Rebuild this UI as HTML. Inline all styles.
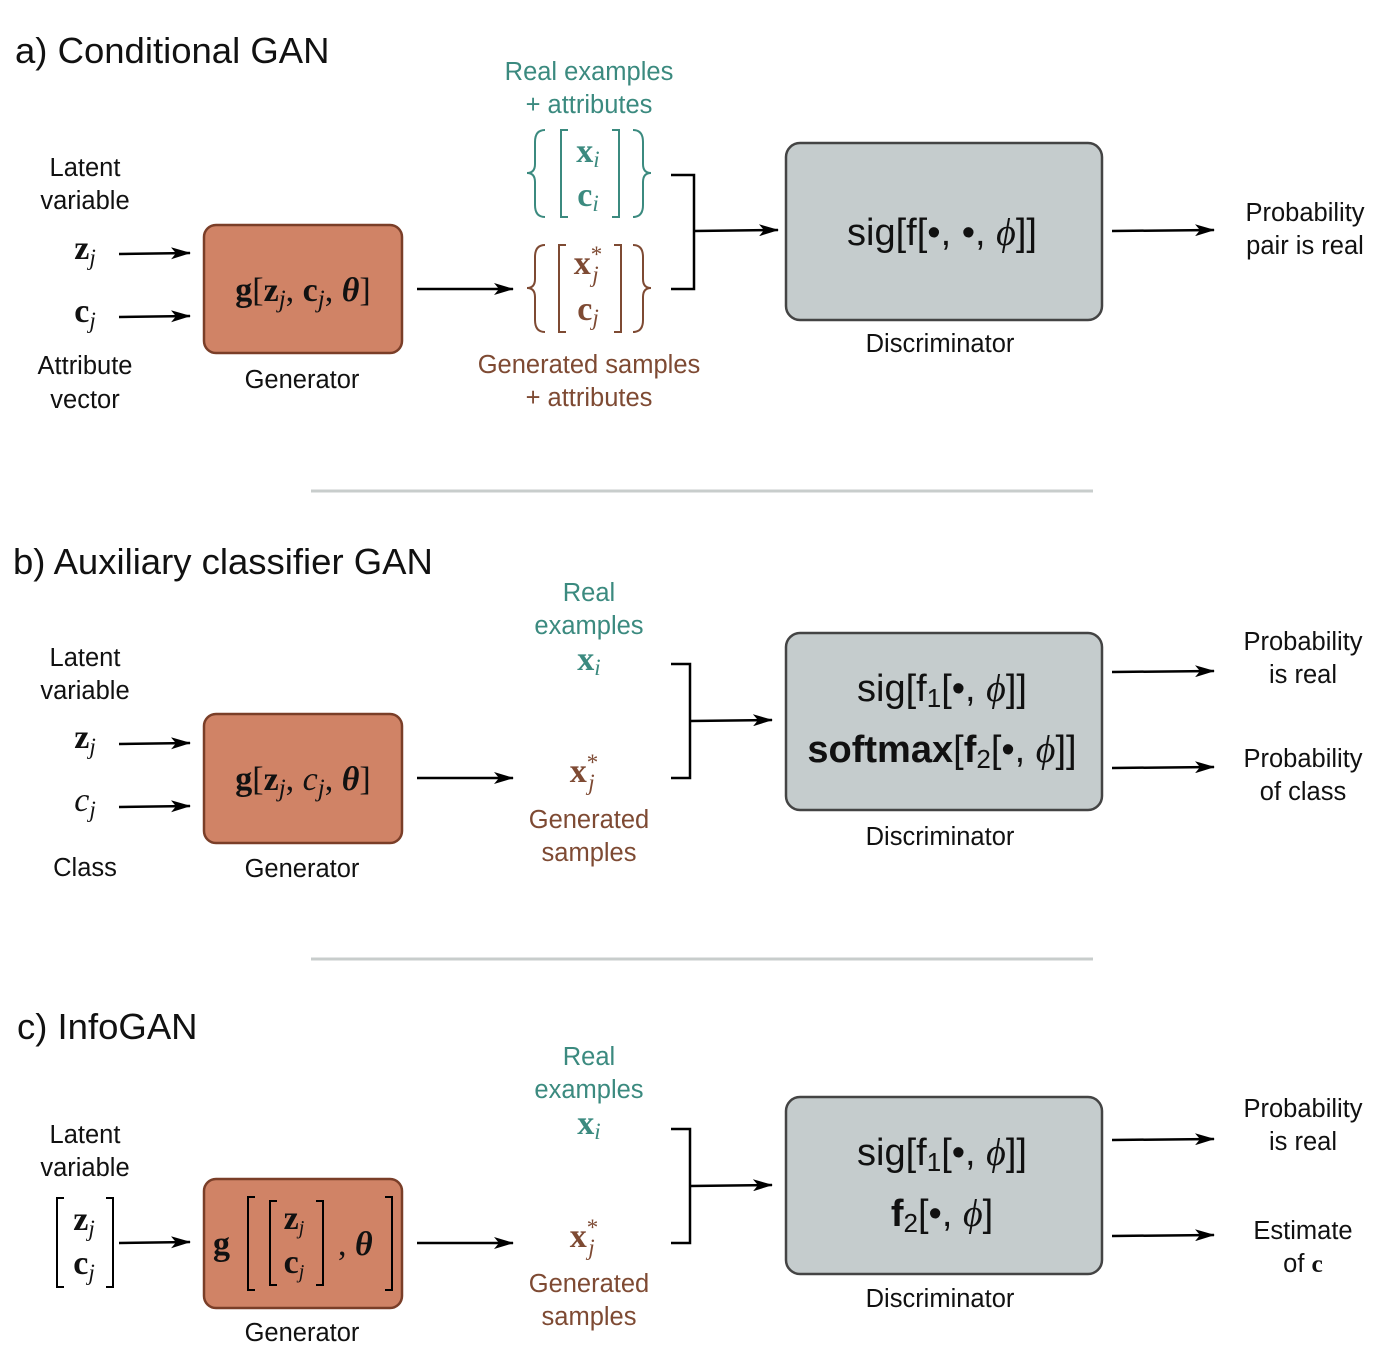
<!DOCTYPE html>
<html><head><meta charset="utf-8"><style>
html,body{margin:0;padding:0;background:#fff}
svg{display:block}
.s{font-family:"Liberation Sans","DejaVu Sans",sans-serif;font-size:25.5px;fill:#111}
.t{font-family:"Liberation Sans","DejaVu Sans",sans-serif;font-size:36.5px;fill:#111}
.d{font-family:"Liberation Sans","DejaVu Sans",sans-serif;font-size:38px;fill:#111}
.m{font-family:"Liberation Serif","DejaVu Serif",serif;font-size:34px;fill:#111}
.b{font-weight:bold}
.i{font-style:italic}
.teal{fill:#3b8a7f}
.brn{fill:#7e4a33}
</style></head><body>
<svg width="1394" height="1366" viewBox="0 0 1394 1366" xmlns="http://www.w3.org/2000/svg">
<defs>
<marker id="ar" viewBox="0 0 20 12" refX="19" refY="6" markerWidth="20" markerHeight="12" markerUnits="userSpaceOnUse" orient="auto">
<path d="M0,0 L20,6 L0,12 L5,6 Z" fill="#000"/></marker>
</defs>
<g stroke="#000" stroke-width="2.5" fill="none" marker-end="url(#ar)">
<line x1="119" y1="254" x2="190" y2="253"/>
<line x1="119" y1="317" x2="190" y2="316"/>
<line x1="417" y1="289" x2="513" y2="289"/>
<line x1="694" y1="231" x2="778" y2="230"/>
<line x1="1112" y1="231" x2="1214" y2="230"/>
<line x1="119" y1="744" x2="190" y2="743"/>
<line x1="119" y1="807" x2="190" y2="806"/>
<line x1="417" y1="778" x2="513" y2="778"/>
<line x1="690" y1="721" x2="772" y2="720"/>
<line x1="1112" y1="672" x2="1214" y2="671"/>
<line x1="1112" y1="768" x2="1214" y2="767"/>
<line x1="119" y1="1243" x2="190" y2="1242"/>
<line x1="417" y1="1243" x2="513" y2="1243"/>
<line x1="690" y1="1186" x2="772" y2="1185"/>
<line x1="1112" y1="1140" x2="1214" y2="1139"/>
<line x1="1112" y1="1236" x2="1214" y2="1235"/>
</g>
<g stroke="#000" stroke-width="2.5" fill="none">
<path d="M671,175 H694 V289 H671"/>
<path d="M671,664 H690 V778 H671"/>
<path d="M671,1129 H690 V1243 H671"/>
</g>
<line x1="311" y1="491" x2="1093" y2="491" stroke="#c8cdcc" stroke-width="3"/>
<line x1="311" y1="959" x2="1093" y2="959" stroke="#c8cdcc" stroke-width="3"/>

<g fill="#d08366" stroke="#7a3e28" stroke-width="2.5">
<rect x="204" y="225" width="198" height="128" rx="12"/>
<rect x="204" y="714" width="198" height="129" rx="12"/>
<rect x="204" y="1179" width="198" height="129" rx="12"/>
</g>
<g fill="#c5cccd" stroke="#444" stroke-width="2.5">
<rect x="786" y="143" width="316" height="177" rx="14"/>
<rect x="786" y="633" width="316" height="177" rx="14"/>
<rect x="786" y="1097" width="316" height="177" rx="14"/>
</g>

<text class="t" x="15" y="63">a) Conditional GAN</text>
<text class="t" x="13" y="574">b) Auxiliary classifier GAN</text>
<text class="t" x="17" y="1039">c) InfoGAN</text>

<g class="s" text-anchor="middle">
<text x="85" y="176">Latent</text><text x="85" y="209">variable</text>
<text x="85" y="374">Attribute</text><text x="85" y="408">vector</text>
<text x="302" y="388">Generator</text>
<text x="940" y="352">Discriminator</text>
<text x="1305" y="221">Probability</text><text x="1305" y="254">pair is real</text>
<text class="s teal" x="589" y="80">Real examples</text><text class="s teal" x="589" y="113">+ attributes</text>
<text class="s brn" x="589" y="373">Generated samples</text><text class="s brn" x="589" y="406">+ attributes</text>
</g>
<text class="m" x="85" y="259" text-anchor="middle"><tspan class="b">z</tspan><tspan class="i" font-size="23" dy="6">j</tspan></text>
<text class="m" x="85" y="322" text-anchor="middle"><tspan class="b">c</tspan><tspan class="i" font-size="23" dy="6">j</tspan></text>
<text class="m" x="303" y="301" text-anchor="middle" font-size="38"><tspan class="b">g</tspan>[<tspan class="b">z</tspan><tspan class="i" font-size="25" dy="6">j</tspan><tspan dy="-6">, </tspan><tspan class="b">c</tspan><tspan class="i" font-size="25" dy="6">j</tspan><tspan dy="-6">, </tspan><tspan class="b i">θ</tspan>]</text>
<g stroke="#3b8a7f" stroke-width="2" fill="none">
<path d="M545,130 Q535,130 535,142 L535,164 Q535,173 527,173 Q535,173 535,182 L535,205 Q535,217 545,217"/>
<path d="M633,130 Q643,130 643,142 L643,164 Q643,173 651,173 Q643,173 643,182 L643,205 Q643,217 633,217"/>
<path d="M568,130 H561 V217 H568"/><path d="M612,130 H619 V217 H612"/>
</g>
<g stroke="#7e4a33" stroke-width="2" fill="none">
<path d="M545,245 Q535,245 535,257 L535,279 Q535,288 527,288 Q535,288 535,297 L535,320 Q535,332 545,332"/>
<path d="M633,245 Q643,245 643,257 L643,279 Q643,288 651,288 Q643,288 643,297 L643,320 Q643,332 633,332"/>
<path d="M566,245 H559 V332 H566"/><path d="M614,245 H621 V332 H614"/>
</g>
<text class="m teal" x="588" y="162" text-anchor="middle"><tspan class="b">x</tspan><tspan class="i" font-size="23" dy="5">i</tspan></text>
<text class="m teal" x="588" y="206" text-anchor="middle"><tspan class="b">c</tspan><tspan class="i" font-size="23" dy="5">i</tspan></text>
<text class="m brn" x="588" y="274" text-anchor="middle"><tspan class="b">x</tspan><tspan font-size="23" dy="-12">*</tspan><tspan class="i" font-size="23" dx="-10" dy="20">j</tspan></text>
<text class="m brn" x="588" y="320" text-anchor="middle"><tspan class="b">c</tspan><tspan class="i" font-size="23" dy="5">j</tspan></text>
<text class="d" x="942" y="245" text-anchor="middle">sig[f[•, •, <tspan class="i" font-family="Liberation Serif,serif">ϕ</tspan>]]</text>

<g class="s" text-anchor="middle">
<text x="85" y="666">Latent</text><text x="85" y="699">variable</text>
<text x="85" y="876">Class</text>
<text x="302" y="877">Generator</text>
<text x="940" y="845">Discriminator</text>
<text x="1303" y="650">Probability</text><text x="1303" y="683">is real</text>
<text x="1303" y="767">Probability</text><text x="1303" y="800">of class</text>
<text class="s teal" x="589" y="601">Real</text><text class="s teal" x="589" y="634">examples</text>
<text class="s brn" x="589" y="828">Generated</text><text class="s brn" x="589" y="861">samples</text>
</g>
<text class="m" x="85" y="748" text-anchor="middle"><tspan class="b">z</tspan><tspan class="i" font-size="23" dy="6">j</tspan></text>
<text class="m i" x="85" y="811" text-anchor="middle">c<tspan font-size="23" dy="6">j</tspan></text>
<text class="m" x="303" y="790" text-anchor="middle" font-size="38"><tspan class="b">g</tspan>[<tspan class="b">z</tspan><tspan class="i" font-size="25" dy="6">j</tspan><tspan dy="-6">, </tspan><tspan class="i">c</tspan><tspan class="i" font-size="25" dy="6">j</tspan><tspan dy="-6">, </tspan><tspan class="b i">θ</tspan>]</text>
<text class="m teal" x="589" y="670" text-anchor="middle"><tspan class="b">x</tspan><tspan class="i" font-size="23" dy="5">i</tspan></text>
<text class="m brn" x="584" y="782" text-anchor="middle"><tspan class="b">x</tspan><tspan font-size="23" dy="-12">*</tspan><tspan class="i" font-size="23" dx="-10" dy="20">j</tspan></text>
<text class="d" x="942" y="701" text-anchor="middle">sig[f<tspan font-size="26" dy="6">1</tspan><tspan dy="-6">[•, </tspan><tspan class="i" font-family="Liberation Serif,serif">ϕ</tspan>]]</text>
<text class="d" x="942" y="762" text-anchor="middle"><tspan class="b">softmax</tspan>[<tspan class="b">f</tspan><tspan font-size="26" dy="6">2</tspan><tspan dy="-6">[•, </tspan><tspan class="i" font-family="Liberation Serif,serif">ϕ</tspan>]]</text>

<g class="s" text-anchor="middle">
<text x="85" y="1143">Latent</text><text x="85" y="1176">variable</text>
<text x="302" y="1341">Generator</text>
<text x="940" y="1307">Discriminator</text>
<text x="1303" y="1117">Probability</text><text x="1303" y="1150">is real</text>
<text x="1303" y="1239">Estimate</text><text x="1303" y="1272">of <tspan class="b" font-family="Liberation Serif,serif">c</tspan></text>
<text class="s teal" x="589" y="1065">Real</text><text class="s teal" x="589" y="1098">examples</text>
<text class="s brn" x="589" y="1292">Generated</text><text class="s brn" x="589" y="1325">samples</text>
</g>
<g stroke="#000" stroke-width="2" fill="none">
<path d="M64,1198 H57 V1287 H64"/><path d="M106,1198 H113 V1287 H106"/>
<path d="M255,1197 H248 V1290 H255"/><path d="M385,1197 H392 V1290 H385"/>
<path d="M277,1201 H270 V1285 H277"/><path d="M316,1201 H323 V1285 H316"/>
</g>
<text class="m" x="84" y="1230" text-anchor="middle"><tspan class="b">z</tspan><tspan class="i" font-size="23" dy="6">j</tspan></text>
<text class="m" x="84" y="1274" text-anchor="middle"><tspan class="b">c</tspan><tspan class="i" font-size="23" dy="6">j</tspan></text>
<text class="m b" x="213" y="1255" font-size="38">g</text>
<text class="m" x="294" y="1229" text-anchor="middle" font-size="30"><tspan class="b">z</tspan><tspan class="i" font-size="20" dy="5">j</tspan></text>
<text class="m" x="294" y="1273" text-anchor="middle" font-size="30"><tspan class="b">c</tspan><tspan class="i" font-size="20" dy="5">j</tspan></text>
<text class="m" x="338" y="1255" font-size="38">, <tspan class="b i">θ</tspan></text>
<text class="m teal" x="589" y="1134" text-anchor="middle"><tspan class="b">x</tspan><tspan class="i" font-size="23" dy="5">i</tspan></text>
<text class="m brn" x="584" y="1247" text-anchor="middle"><tspan class="b">x</tspan><tspan font-size="23" dy="-12">*</tspan><tspan class="i" font-size="23" dx="-10" dy="20">j</tspan></text>
<text class="d" x="942" y="1165" text-anchor="middle">sig[f<tspan font-size="26" dy="6">1</tspan><tspan dy="-6">[•, </tspan><tspan class="i" font-family="Liberation Serif,serif">ϕ</tspan>]]</text>
<text class="d" x="942" y="1226" text-anchor="middle"><tspan class="b">f</tspan><tspan font-size="26" dy="6">2</tspan><tspan dy="-6">[•, </tspan><tspan class="i" font-family="Liberation Serif,serif">ϕ</tspan>]</text>
</svg>
</body></html>
